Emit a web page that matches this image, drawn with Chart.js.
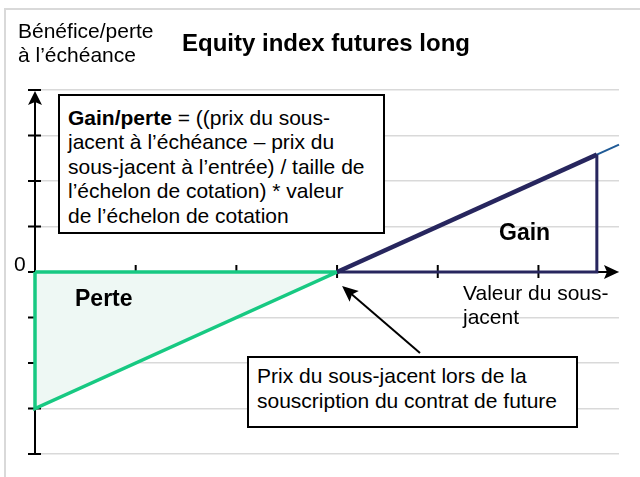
<!DOCTYPE html>
<html>
<head>
<meta charset="utf-8">
<script src="https://cdn.jsdelivr.net/npm/chart.js@4.4.1/dist/chart.umd.min.js"></script>
<style>
  html, body { margin: 0; padding: 0; background: #fff; }
  #wrap { position: relative; width: 640px; height: 477px; overflow: hidden; background: #fff; font-family: "Liberation Sans", Arial, sans-serif; color: #000; }
  #c { position: absolute; left: 0; top: 0; }
  .frame { position: absolute; left: 4px; top: 8px; width: 700px; height: 600px; border: 2px solid #d9d9d9; box-sizing: border-box; }
  .t { position: absolute; white-space: nowrap; font-size: 21px; line-height: 24px; }
  .b { font-weight: bold; }
  .box { position: absolute; background: #fff; border: 2px solid #000; box-sizing: border-box; font-size: 21px; white-space: nowrap; }
</style>
</head>
<body>
<div id="wrap">
  <div class="frame"></div>
  <canvas id="c" width="640" height="477"></canvas>
  <div class="t" id="ylab" style="left:18px; top:18.7px;"></div>
  <div class="t b" id="title" style="left:182px; top:29px; font-size:24px; line-height:27px;"></div>
  <div class="t" id="zero" style="left:14px; top:252px;"></div>
  <div class="t" id="xlab" style="left:463px; top:280.7px;"></div>
  <div class="t b" id="perte" style="left:75px; top:285px; font-size:23px; line-height:26px;"></div>
  <div class="t b" id="gain" style="left:499px; top:219px; font-size:23px; line-height:26px;"></div>
  <div class="box" id="box1" style="left:58px; top:94px; width:327px; height:140px; padding:9.5px 0 0 8px; line-height:24.5px;"></div>
  <div class="box" id="box2" style="left:247px; top:356px; width:331px; height:72px; padding:5px 0 0 8px; line-height:25px;"></div>
</div>
<script>
// ---- data ----
const xTickValues = [0, 1, 2, 3, 4, 5];
const yTickValues = [-4, -3, -2, -1, 0, 1, 2, 3, 4];
const lossX = [0, 0, 3, 0];
const lossY = [0, -3, 0, 0];
const lossFillX = [0, 3];
const lossFillY = [-3, 0];
const gainX = [3, 5.58, 5.58, 3];
const gainY = [0, 2.58, 0, 0];
const payoffX = [3, 5.8];
const payoffY = [0, 2.8];

// ---- texts ----
const yAxisLabel = ["Bénéfice/perte", "à l’échéance"];
const titleText = "Equity index futures long";
const zeroLabel = "0";
const xAxisLabel = ["Valeur du sous-", "jacent"];
const lossLabel = "Perte";
const gainLabel = "Gain";
const formulaBold = "Gain/perte";
const formulaLines = [" = ((prix du sous-", "jacent à l’échéance – prix du", "sous-jacent à l’entrée) / taille de", "l’échelon de cotation) * valeur", "de l’échelon de cotation"];
const noteLines = ["Prix du sous-jacent lors de la", "souscription du contrat de future"];

function esc(s) { return s.replace(/&/g, "&amp;").replace(/</g, "&lt;"); }
document.getElementById("ylab").innerHTML = yAxisLabel.map(esc).join("<br>");
document.getElementById("title").textContent = titleText;
document.getElementById("zero").textContent = zeroLabel;
document.getElementById("xlab").innerHTML = xAxisLabel.map(esc).join("<br>");
document.getElementById("perte").textContent = lossLabel;
document.getElementById("gain").textContent = gainLabel;
document.getElementById("box1").innerHTML = "<b>" + esc(formulaBold) + "</b>" + esc(formulaLines[0]) + "<br>" + formulaLines.slice(1).map(esc).join("<br>");
document.getElementById("box2").innerHTML = noteLines.map(esc).join("<br>");

const pts = (xs, ys) => xs.map((x, i) => ({ x: x, y: ys[i] }));

const GREEN = "#17c982";
const NAVY = "#27265e";
const BLUE = "#1f5a96";

function stealth(ctx, tx, ty, angle, len, half, notch) {
  ctx.save();
  ctx.translate(tx, ty);
  ctx.rotate(angle);
  ctx.beginPath();
  ctx.moveTo(0, 0);
  ctx.lineTo(-len, -half);
  ctx.lineTo(-len + notch, 0);
  ctx.lineTo(-len, half);
  ctx.closePath();
  ctx.fill();
  ctx.restore();
}

const axesPlugin = {
  id: "axesPlugin",
  beforeDatasetsDraw(chart) {
    const ctx = chart.ctx;
    const xs = chart.scales.x, ys = chart.scales.y;
    const x0 = xs.getPixelForValue(0), y0 = ys.getPixelForValue(0);
    const yTop = ys.getPixelForValue(yTickValues[yTickValues.length - 1]);
    const yBot = ys.getPixelForValue(yTickValues[0]);
    const xEnd = xs.right;
    ctx.save();
    ctx.strokeStyle = "#000";
    ctx.fillStyle = "#000";
    ctx.lineWidth = 2;
    ctx.beginPath();
    ctx.moveTo(x0, yBot);
    ctx.lineTo(x0, yTop + 4);
    ctx.moveTo(x0, y0);
    ctx.lineTo(xEnd - 4, y0);
    ctx.stroke();
    ctx.beginPath();
    yTickValues.forEach(v => {
      const py = ys.getPixelForValue(v);
      ctx.moveTo(x0 - 7, py);
      ctx.lineTo(x0 + 6, py);
    });
    xTickValues.forEach(v => {
      if (v === 0) return;
      const px = xs.getPixelForValue(v);
      ctx.moveTo(px, y0 - 7);
      ctx.lineTo(px, y0 + 6);
    });
    ctx.stroke();
    stealth(ctx, x0, yTop + 1, -Math.PI / 2, 14, 7, 3);
    stealth(ctx, xEnd, y0, 0, 15, 7, 3);
    ctx.restore();
  },
  afterDatasetsDraw(chart) {
    const ctx = chart.ctx;
    const xs = chart.scales.x, ys = chart.scales.y;
    const tipX = xs.getPixelForValue(3) + 5, tipY = ys.getPixelForValue(0) + 14;
    const fromX = 420, fromY = 353;
    const ang = Math.atan2(tipY - fromY, tipX - fromX);
    ctx.save();
    ctx.strokeStyle = "#000";
    ctx.fillStyle = "#000";
    ctx.lineWidth = 2;
    ctx.beginPath();
    ctx.moveTo(fromX, fromY);
    ctx.lineTo(tipX - Math.cos(ang) * 10, tipY - Math.sin(ang) * 10);
    ctx.stroke();
    stealth(ctx, tipX, tipY, ang, 16, 7, 3);
    ctx.restore();
  }
};

new Chart(document.getElementById("c"), {
  type: "line",
  data: {
    datasets: [
      {
        data: pts(gainX, gainY), borderColor: NAVY, borderWidth: 3, pointRadius: 0,
        fill: false, clip: false, order: 1, borderJoinStyle: "miter",
        segment: { borderWidth: c => (c.p0DataIndex === 0 ? 4.5 : 3) }
      },
      {
        data: pts(lossX, lossY), borderColor: GREEN, borderWidth: 3.5, pointRadius: 0,
        fill: false, clip: false, order: 2, borderJoinStyle: "miter"
      },
      {
        data: pts(payoffX, payoffY), borderColor: BLUE, borderWidth: 2, pointRadius: 0,
        fill: false, clip: false, order: 3
      },
      {
        data: pts(lossFillX, lossFillY), borderWidth: 0, borderColor: "rgba(0,0,0,0)", pointRadius: 0,
        fill: { target: { value: 0 } }, backgroundColor: "#eef8f4", clip: false, order: 4
      }
    ]
  },
  options: {
    responsive: false,
    animation: false,
    events: [],
    layout: { padding: { left: 35, right: 21, top: 90, bottom: 23 } },
    plugins: { legend: { display: false }, tooltip: { enabled: false }, title: { display: false } },
    scales: {
      x: {
        type: "linear", min: 0, max: 5.8, display: false
      },
      y: {
        type: "linear", min: -4, max: 4,
        afterBuildTicks: (s) => { s.ticks = yTickValues.map(v => ({ value: v })); },
        ticks: { display: false },
        grid: { color: "#d9d9d9", lineWidth: 1.5, drawTicks: false },
        border: { display: false }
      }
    }
  },
  plugins: [axesPlugin]
});
</script>
</body>
</html>
